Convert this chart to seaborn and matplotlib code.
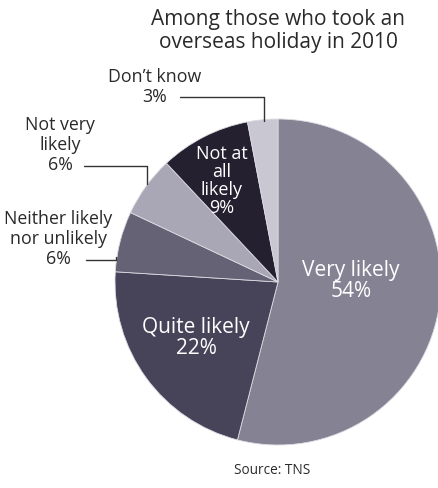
import matplotlib
matplotlib.use("Agg")
import matplotlib.pyplot as plt
import seaborn as sns

categories = ["Very likely", "Quite likely", "Neither likely\nnor unlikely",
              "Not very\nlikely", "Not at\nall\nlikely", "Don\u2019t know"]
values = [54, 22, 6, 6, 9, 3]
colors = ["#858293", "#474459", "#646274", "#a9a7b5", "#24202f", "#c9c8d2"]

sns.set_theme(style="white")
plt.rcParams['font.family'] = ['Open Sans', 'DejaVu Sans']

W, H = 438, 488
fig = plt.figure(figsize=(W / 100, H / 100), dpi=100)
ax = fig.add_axes([0, 0, 1, 1])

cx, cy, r = 278, H - 282, 163
wedges, _ = ax.pie(values, colors=colors, startangle=90, counterclock=False,
                   center=(cx, cy), radius=r, frame=True,
                   wedgeprops=dict(edgecolor="#dcdbe2", linewidth=0.6))
ax.set_xlim(0, W)
ax.set_ylim(0, H)
ax.set_aspect("equal")
ax.axis("off")

def Y(y):
    return H - y

txt = "#2a2a2a"
fs = 12.8
ax.text(278, Y(31), "Among those who took an\noverseas holiday in 2010", ha="center",
        va="center", fontsize=15, color=txt, linespacing=1.12)

pct = [f"{v}%" for v in values]
# inside labels
ax.text(351, Y(281), f"{categories[0]}\n{pct[0]}", ha="center", va="center",
        fontsize=15, color="white", linespacing=1.05)
ax.text(196, Y(338), f"{categories[1]}\n{pct[1]}", ha="center", va="center",
        fontsize=15, color="white", linespacing=1.05)
ax.text(222, Y(181), f"{categories[4]}\n{pct[4]}", ha="center", va="center",
        fontsize=13, color="white", linespacing=1.0)

# outside labels
ax.text(155, Y(87), f"{categories[5]}\n{pct[5]}", ha="center", va="center",
        fontsize=fs, color=txt, linespacing=1.15)
ax.text(60, Y(145), f"{categories[3]}\n{pct[3]}", ha="center", va="center",
        fontsize=fs, color=txt, linespacing=1.15)
ax.text(58, Y(239), f"{categories[2]}\n{pct[2]}", ha="center", va="center",
        fontsize=fs, color=txt, linespacing=1.15)

lc = "#333333"
ax.plot([180, 264, 264], [Y(97), Y(97), Y(121)], color=lc, lw=1)
ax.plot([84, 147, 147], [Y(166), Y(166), Y(184)], color=lc, lw=1)
ax.plot([86, 116, 116], [Y(260), Y(260), Y(257)], color=lc, lw=1)

ax.text(272, Y(470), "Source: TNS", ha="center", va="center", fontsize=9.8, color=txt)

fig.savefig("out.png", dpi=100)
